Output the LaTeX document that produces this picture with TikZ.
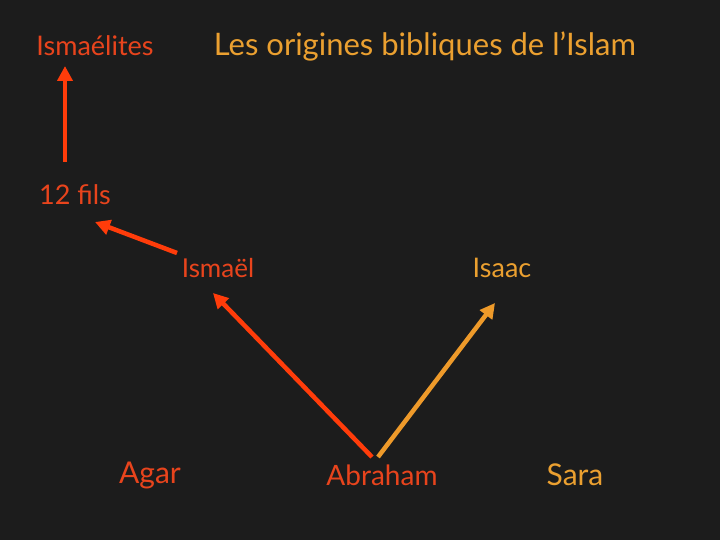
\documentclass[tikz,border=0pt]{standalone}
\usepackage{fontspec}
\setmainfont{Lato}
\usetikzlibrary{arrows.meta,calc}
\definecolor{bg}{HTML}{1C1C1C}
\definecolor{redo}{HTML}{E8441C}
\definecolor{gold}{HTML}{EBA030}
\definecolor{arrred}{HTML}{FF3C0A}
\definecolor{arrgold}{HTML}{EE9A2A}
\tikzset{
  lbl/.style={inner sep=0pt, anchor=center, text=redo, font=\fontsize{27}{30}\selectfont},
  goldlbl/.style={lbl, text=gold},
  titlelbl/.style={inner sep=0pt, anchor=center, text=gold, font=\fontsize{31}{34}\selectfont},
  conn/.style={line width=4.5pt, -{Triangle[length=15pt,width=15pt]}},
}
\begin{document}
\begin{tikzpicture}[x=1pt,y=-1pt]
\fill[bg] (0,0) rectangle (720,540);
\useasboundingbox (0,0) rectangle (720,540);
\node[lbl] (ismaelites) at (95,46) {Ismaélites};
\node[titlelbl] (title) at (425,46) {Les origines bibliques de l’Islam};
\node[lbl] (fils) at (75,195) {12 fils};
\node[lbl, font=\fontsize{26}{30}\selectfont] (ismael) at (218,268) {Ismaël};
\node[goldlbl] (isaac) at (502,268) {Isaac};
\node[lbl, font=\fontsize{30}{34}\selectfont] (agar) at (150,475) {Agar};
\node[lbl, font=\fontsize{28}{32}\selectfont] (abraham) at (382,475) {Abraham};
\node[goldlbl, font=\fontsize{30}{34}\selectfont] (sara) at (575,475) {Sara};
\draw[conn, arrred] ($(fils)+(-10,-33)$) -- ($(ismaelites)+(-30,20)$);
\draw[conn, arrred] ($(ismael)+(-41,-15)$) -- ($(fils)+(20,27)$);
\draw[conn, arrred] ($(abraham)+(-10,-18)$) -- ($(ismael)+(-5,25)$);
\draw[conn, arrgold] ($(abraham)+(-4,-18)$) -- ($(isaac)+(-7,35)$);
\end{tikzpicture}
\end{document}
